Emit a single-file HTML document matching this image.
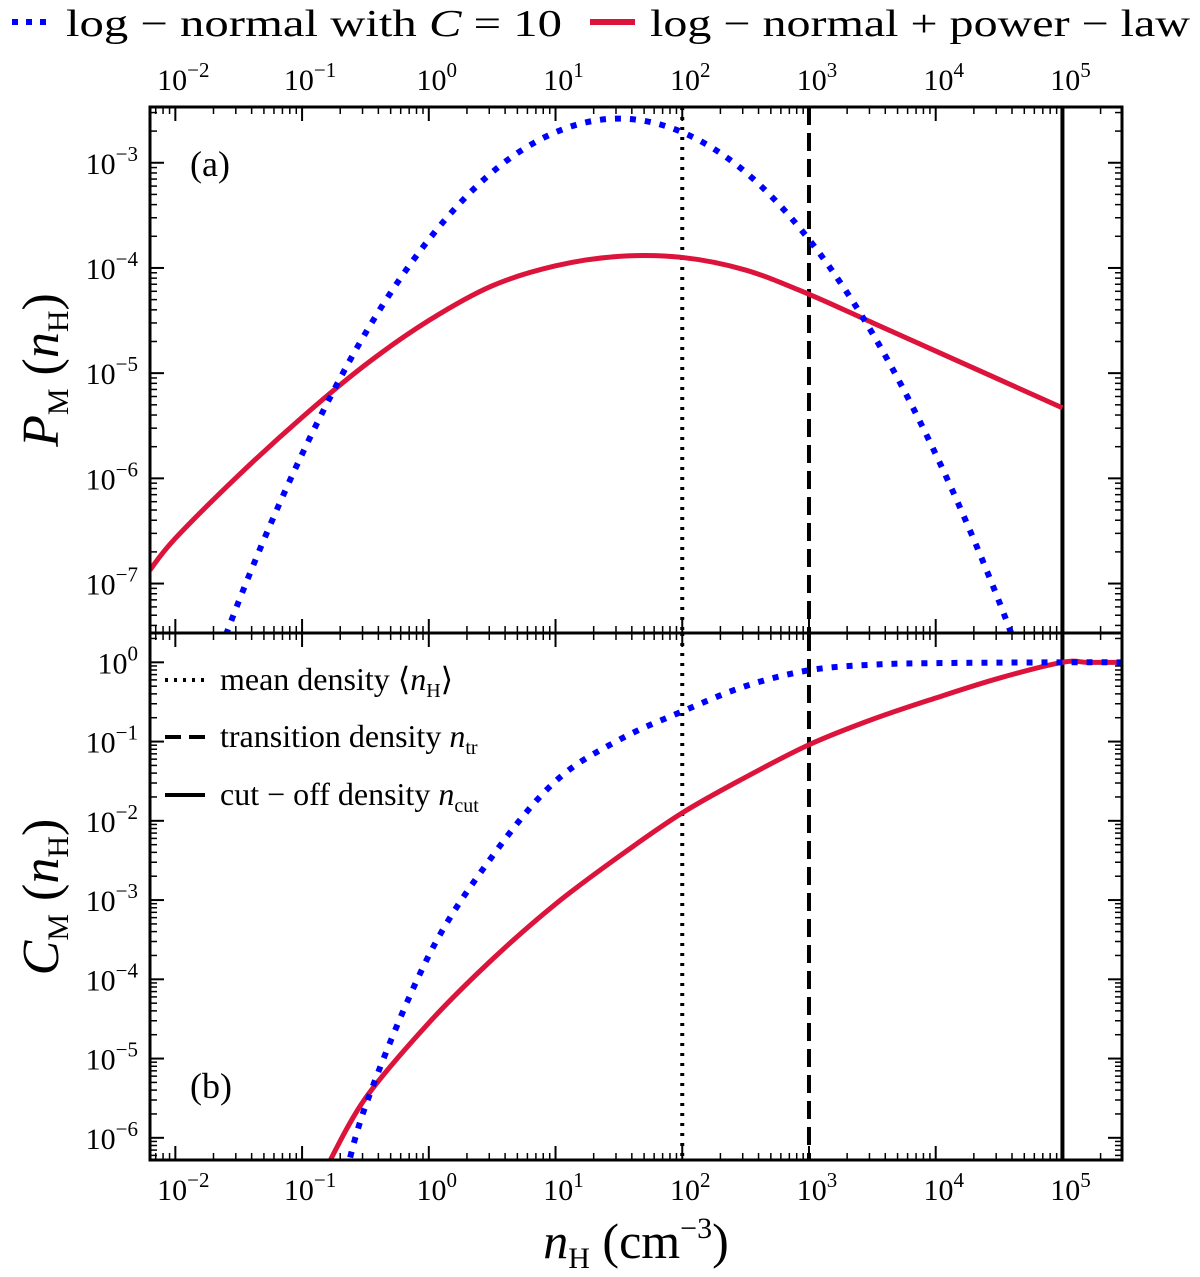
<!DOCTYPE html>
<html><head><meta charset="utf-8">
<style>
html,body{margin:0;padding:0;background:#fff;}
svg{display:block;font-family:"Liberation Serif",serif;}
</style></head>
<body>
<svg id="chart" width="1200" height="1277" viewBox="0 0 1200 1277">
<defs>
<clipPath id="clipTop"><rect x="150" y="107" width="972" height="526"/></clipPath>
<clipPath id="clipBot"><rect x="150" y="633" width="972" height="527"/></clipPath>
</defs>
<g id="legendTop">
  <line x1="12" y1="22" x2="52" y2="22" stroke="#0000ff" stroke-width="6" stroke-dasharray="6 8"/>
  <text x="66" y="36" font-size="38" textLength="496" lengthAdjust="spacingAndGlyphs">log − normal with <tspan font-style="italic">C</tspan> = 10</text>
  <line x1="590" y1="22" x2="635" y2="22" stroke="#dc143c" stroke-width="6"/>
  <text x="650" y="36" font-size="38" textLength="540" lengthAdjust="spacingAndGlyphs">log − normal + power − law</text>
</g>
<g id="axes"></g>
<g id="series"></g>
<g id="frames"></g>
<g>
<text transform="translate(58,370) rotate(-90)" text-anchor="middle" font-size="52"><tspan font-style="italic">P</tspan><tspan font-size="30" dy="10">M</tspan><tspan dy="-10"> (</tspan><tspan font-style="italic">n</tspan><tspan font-size="30" dy="10">H</tspan><tspan dy="-10">)</tspan></text>
</g>
<g>
<text transform="translate(58,897) rotate(-90)" text-anchor="middle" font-size="52"><tspan font-style="italic">C</tspan><tspan font-size="30" dy="10">M</tspan><tspan dy="-10"> (</tspan><tspan font-style="italic">n</tspan><tspan font-size="30" dy="10">H</tspan><tspan dy="-10">)</tspan></text>
</g>
<text x="636" y="1258" text-anchor="middle" font-size="50"><tspan font-style="italic">n</tspan><tspan font-size="30" dy="10">H</tspan><tspan dy="-10"> (cm</tspan><tspan font-size="30" dy="-20">−3</tspan><tspan dy="20">)</tspan></text>
<text x="190" y="176" font-size="36">(a)</text>
<text x="190" y="1098" font-size="36">(b)</text>
<g>
  <line x1="165" y1="680" x2="205" y2="680" stroke="#000" stroke-width="4" stroke-dasharray="3 6"/>
  <text x="220" y="690" font-size="32">mean density ⟨<tspan font-style="italic">n</tspan><tspan font-size="20" dy="7">H</tspan><tspan dy="-7">⟩</tspan></text>
  <line x1="165" y1="737" x2="205" y2="737" stroke="#000" stroke-width="4" stroke-dasharray="16 8"/>
  <text x="220" y="747" font-size="32">transition density <tspan font-style="italic">n</tspan><tspan font-size="20" dy="7">tr</tspan></text>
  <line x1="165" y1="795" x2="205" y2="795" stroke="#000" stroke-width="4"/>
  <text x="220" y="805" font-size="32">cut − off density <tspan font-style="italic">n</tspan><tspan font-size="20" dy="7">cut</tspan></text>
</g>
</svg>
<script>
const xTicks = [-2,-1,0,1,2,3,4,5];
const yTicksTop = [-7,-6,-5,-4,-3];
const yTicksBot = [-6,-5,-4,-3,-2,-1,0];
const vLines = [2,3,5];
const blueP_x = [-2,-1.5,-1,-0.5,0,0.5,1,1.5,2,2.5,3,3.5,4,4.5,5];
const blueP_y = [-8.83,-7.17,-5.77,-4.62,-3.73,-3.09,-2.71,-2.58,-2.71,-3.09,-3.73,-4.62,-5.77,-7.17,-8.83];
const redP_x = [-2.2,-2,-1.5,-1,-0.5,0,0.5,1,1.5,2,2.5,3,3.5,4,4.5,5];
const redP_y = [-6.87,-6.57,-5.97,-5.42,-4.92,-4.5,-4.17,-3.98,-3.89,-3.9,-4.02,-4.25,-4.52,-4.79,-5.06,-5.33];
const blueC_x = [-0.7,-0.5,0,0.5,1,1.5,2,2.5,3,3.5,4,5,5.47];
const blueC_y = [-6.8,-5.6,-3.7,-2.45,-1.5,-0.98,-0.62,-0.3,-0.1,-0.03,-0.01,0,0];
const redC_x = [-0.8,-0.5,0,0.5,1,1.5,2,2.5,3,3.5,4,4.5,5,5.2,5.47];
const redC_y = [-6.35,-5.5,-4.55,-3.75,-3.05,-2.45,-1.9,-1.45,-1.04,-0.72,-0.45,-0.2,0,0,0];

const NS="http://www.w3.org/2000/svg";
const L=150,R=1122,T1=107,B1=633,T2=633,B2=1160;
const xMin=-2.2,xMax=5.47;
const yTopMin=-7.47,yTopMax=-2.47,yBotMin=-6.28,yBotMax=0.37;
const sx=v=>L+(v-xMin)/(xMax-xMin)*(R-L);
const syT=v=>B1-(v-yTopMin)/(yTopMax-yTopMin)*(B1-T1);
const syB=v=>B2-(v-yBotMin)/(yBotMax-yBotMin)*(B2-T2);
function mk(tag,attrs,parent){const e=document.createElementNS(NS,tag);for(const k in attrs)e.setAttribute(k,attrs[k]);parent.appendChild(e);return e;}
const axes=document.getElementById('axes'),series=document.getElementById('series'),frames=document.getElementById('frames');

function sup(parent,x,y,exp,anchor){
  const t=mk('text',{x:x,y:y,'font-size':30,'text-anchor':anchor},parent);
  
  
  const a=document.createElementNS(NS,'tspan');a.textContent='10';t.appendChild(a);
  const b=document.createElementNS(NS,'tspan');b.setAttribute('font-size','21');b.setAttribute('dy','-13');b.textContent=(exp<0?'−'+(-exp):exp);t.appendChild(b);
}
xTicks.forEach(v=>{
  const x=sx(v);
  [[T1,1],[B1,-1],[T2,1],[B2,-1]].forEach(([y,d])=>{
    const l=mk('line',{x1:x,y1:y,x2:x,y2:y+d*14,stroke:'#000','stroke-width':2},axes);
    
    
  });
  sup(axes,x+8,1200,v,'middle');
  sup(axes,x+8,90,v,'middle');
  for(let m=2;m<10;m++){
    const xm=sx(v+Math.log10(m));
    if(xm>R)continue;
    [[T1,1],[B1,-1],[T2,1],[B2,-1]].forEach(([y,d])=>{mk('line',{x1:xm,y1:y,x2:xm,y2:y+d*7,stroke:'#000','stroke-width':1.5},axes);});
  }
});
for(let m=7;m<10;m++){const xm=sx(-3+Math.log10(m));if(xm>L)[[T1,1],[B1,-1],[T2,1],[B2,-1]].forEach(([y,d])=>{mk('line',{x1:xm,y1:y,x2:xm,y2:y+d*7,stroke:'#000','stroke-width':1.5},axes);});}
function yAxis(ticks,sy,tmin,tmax){
  ticks.forEach(v=>{
    const y=sy(v);
    [[L,1],[R,-1]].forEach(([x,d])=>{
      const l=mk('line',{x1:x,y1:y,x2:x+d*14,y2:y,stroke:'#000','stroke-width':2},axes);
      
      
    });
    sup(axes,138,y+11,v,'end');
  });
  for(let d=Math.floor(tmin)-1;d<tmax;d++)for(let m=2;m<10;m++){
    const y=sy(d+Math.log10(m));
    if(y<sy(tmax)+1||y>sy(tmin)-1)continue;
    [[L,1],[R,-1]].forEach(([x,dd])=>{mk('line',{x1:x,y1:y,x2:x+dd*7,y2:y,stroke:'#000','stroke-width':1.5},axes);});
  }
}
yAxis(yTicksTop,syT,yTopMin,yTopMax);
yAxis(yTicksBot,syB,yBotMin,yBotMax);

function pathD(xs,ys,sy){
  const p=xs.map((x,i)=>[sx(x),sy(ys[i])]);
  let d='M'+p[0][0]+','+p[0][1];
  for(let i=0;i<p.length-1;i++){
    const p0=p[i-1]||p[i],p1=p[i],p2=p[i+1],p3=p[i+2]||p2;
    const c1=[p1[0]+(p2[0]-p0[0])/6,p1[1]+(p2[1]-p0[1])/6];
    const c2=[p2[0]-(p3[0]-p1[0])/6,p2[1]-(p3[1]-p1[1])/6];
    d+=' C'+c1+' '+c2+' '+p2;
  }
  return d;
}
function vline(v,dash,name){
  [[T1,B1],[T2,B2]].forEach(([a,b])=>{
    const l=mk('line',{x1:sx(v),y1:a,x2:sx(v),y2:b,stroke:'#000','stroke-width':4},series);
    if(dash)l.setAttribute('stroke-dasharray',dash);
    
    
  });
}
vline(vLines[0],'3 7','mean-density-line');
vline(vLines[1],'18 8','transition-density-line');
vline(vLines[2],null,'cutoff-density-line');

const gT=mk('g',{'clip-path':'url(#clipTop)'},series);
const gB=mk('g',{'clip-path':'url(#clipBot)'},series);
let e;
e=mk('path',{d:pathD(redP_x,redP_y,syT),fill:'none',stroke:'#dc143c','stroke-width':5},gT);


e=mk('path',{d:pathD(blueP_x,blueP_y,syT),fill:'none',stroke:'#0000ff','stroke-width':6,'stroke-dasharray':'6 9'},gT);


e=mk('path',{d:pathD(redC_x,redC_y,syB),fill:'none',stroke:'#dc143c','stroke-width':5},gB);


e=mk('path',{d:pathD(blueC_x,blueC_y,syB),fill:'none',stroke:'#0000ff','stroke-width':6,'stroke-dasharray':'6 9'},gB);



e=mk('rect',{x:L,y:T1,width:R-L,height:B1-T1,fill:'none',stroke:'#000','stroke-width':3},frames);


e=mk('rect',{x:L,y:T2,width:R-L,height:B2-T2,fill:'none',stroke:'#000','stroke-width':3},frames);


</script>
</body></html>
